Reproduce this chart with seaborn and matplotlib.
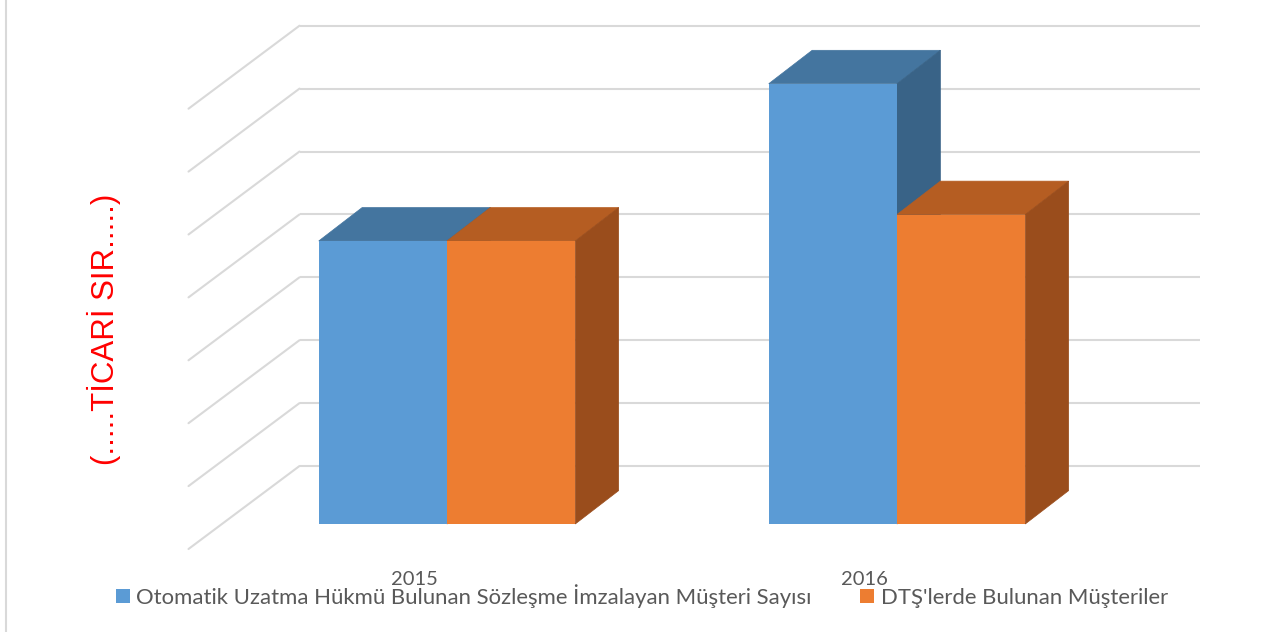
import matplotlib
matplotlib.use("Agg")
import matplotlib.pyplot as plt
import matplotlib.transforms as mtransforms
from matplotlib.patches import Polygon, Patch
from matplotlib.lines import Line2D
import seaborn as sns
import pandas as pd

# Data (values in gridline units; the axis scale itself is confidential)
years = ["2015", "2016"]
series = [
    "Otomatik Uzatma Hükmü Bulunan Sözleşme İmzalayan Müşteri Sayısı",
    "DTŞ'lerde Bulunan Müşteriler",
]
values_auto = [4.5, 7.0]
values_dts = [4.5, 4.92]
y_ticks = [0, 1, 2, 3, 4, 5, 6, 7]
y_label = "(.....TİCARİ SIR.....)"

front_colors = ["#5B9BD5", "#ED7D31"]
top_colors = ["#44759F", "#B55D22"]
side_colors = ["#396387", "#9A4D1C"]
grid_color = "#D9D9D9"
text_color = "#595959"

df = pd.DataFrame({
    "year": years * 2,
    "series": [series[0]] * 2 + [series[1]] * 2,
    "value": values_auto + values_dts,
})

sns.set_theme(style="white")
plt.rcParams["font.family"] = ["Lato", "DejaVu Sans"]

W, H, DPI = 1268, 632, 100
fig = plt.figure(figsize=(W / DPI, H / DPI), dpi=DPI)
fig.patch.set_facecolor("white")

# axes = the plane of the bars' front faces
left_px, right_px = 222, 1122
floor_px, top_px = 524, 524 - 7 * 62.9
ax = fig.add_axes([left_px / W, (H - floor_px) / H,
                   (right_px - left_px) / W, (floor_px - top_px) / H])

sns.barplot(data=df, x="year", y="value", hue="series", hue_order=series,
            palette=front_colors, saturation=1, width=0.57, legend=False,
            ax=ax, zorder=3, linewidth=0)
ax.set_xlim(-0.5, 1.5)
ax.set_ylim(0, 7)
ax.axis("off")

# pixel -> data conversion
p0 = ax.transData.transform((0, 0))
p1 = ax.transData.transform((1, 1))
ppx, ppy = p1[0] - p0[0], p1[1] - p0[1]

def off(dx_px, dy_px):
    return dx_px / ppx, dy_px / ppy

# depth offsets (screen pixels, y up)
wall_dx, wall_dy = off(77.5, 58)     # bar front plane -> back wall
front_dx, front_dy = off(-33.5, -25)  # bar front plane -> floor front edge
bar_dx, bar_dy = off(43.4, 33.4)     # bar depth

x0, x1 = ax.get_xlim()
lw = 1.5
for k in y_ticks:
    # back wall gridline
    ax.add_line(Line2D([x0 + wall_dx, x1 + wall_dx], [k + wall_dy, k + wall_dy],
                       color=grid_color, lw=lw, zorder=0.5, clip_on=False,
                       solid_capstyle="butt"))
    # left wall gridline
    ax.add_line(Line2D([x0 + front_dx, x0 + wall_dx], [k + front_dy, k + wall_dy],
                       color=grid_color, lw=lw, zorder=0.5, clip_on=False,
                       solid_capstyle="round"))

# 3D tops and sides for each bar
for i, cont in enumerate(ax.containers):
    for bar in cont:
        bx0 = bar.get_x()
        bx1 = bx0 + bar.get_width()
        h = bar.get_height()
        top = Polygon([(bx0, h), (bx1, h), (bx1 + bar_dx, h + bar_dy),
                       (bx0 + bar_dx, h + bar_dy)], closed=True,
                      facecolor=top_colors[i], edgecolor=top_colors[i], lw=0.5,
                      zorder=2.5 + 0.1 * i, clip_on=False)
        side = Polygon([(bx1, 0), (bx1, h), (bx1 + bar_dx, h + bar_dy),
                        (bx1 + bar_dx, bar_dy)], closed=True,
                       facecolor=side_colors[i], edgecolor=side_colors[i], lw=0.5,
                       zorder=2.5 + 0.1 * i, clip_on=False)
        ax.add_patch(top)
        ax.add_patch(side)

# category labels on the floor's front edge
lbl_tr = mtransforms.offset_copy(ax.transData, fig=fig, x=-33, y=-55.5, units="dots")
for i, yr in enumerate(years):
    ax.text(i, 0, yr, transform=lbl_tr, ha="center", va="center",
            fontsize=14.5, color=text_color, clip_on=False)

# rotated axis title
fig.text(104 / W, 1 - 329 / H, y_label, rotation=90, ha="center", va="center",
         color="red", fontsize=22.5, family=["Liberation Sans", "DejaVu Sans"])

# legend
handles = [Patch(facecolor=c, edgecolor="none") for c in front_colors]
fs = 15.9
fig.legend(handles, series, loc="center", bbox_to_anchor=(642 / W, 1 - 596 / H),
           ncol=2, frameon=False, fontsize=fs, labelcolor=text_color,
           handlelength=0.61, handleheight=0.61, handletextpad=0.3,
           columnspacing=2.2, borderpad=0, borderaxespad=0)

# chart area border (left edge visible)
fig.add_artist(Line2D([5.5 / W, 5.5 / W], [0, 1], color=grid_color, lw=1.5,
                      transform=fig.transFigure))

fig.savefig("out.png", dpi=DPI, facecolor="white")
